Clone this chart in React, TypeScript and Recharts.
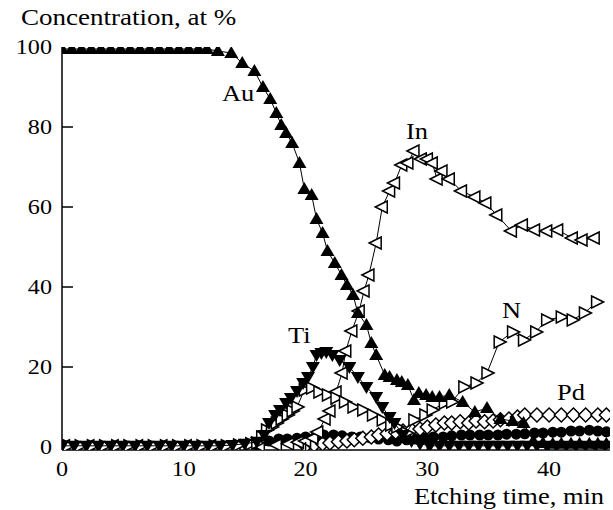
import React from 'react';
import { ScatterChart, Scatter, XAxis, YAxis } from 'recharts';

// Etching time (min) / concentration (at %) per element
const auTime = [0, 0.8, 1.6, 2.4, 3.2, 4, 4.8, 5.6, 6.4, 7.2, 8, 8.8, 9.6, 10.4, 11.2, 11.9, 12.8, 13.9, 14.8, 15.8, 16.5, 17.1, 17.6, 18, 18.4, 18.9, 19.5, 19.9, 20.5, 20.9, 21.4, 21.8, 22.4, 22.95, 23.4, 23.9, 24.3, 25, 25.4, 25.8, 26.5, 26.9, 27.5, 27.9, 28.4, 28.9, 29.3, 29.9, 30.4, 31, 31.8, 32.9, 33.9, 34.9, 36, 37, 37.9, 38.7, 39.5, 40.3, 41, 41.8, 42.5, 43.3, 44, 44.7];
const auConc = [99.5, 99.5, 99.5, 99.5, 99.5, 99.5, 99.5, 99.5, 99.5, 99.5, 99.5, 99.5, 99.5, 99.5, 99.5, 99.5, 99, 98.5, 96, 94, 90, 87, 83.5, 80.5, 78.5, 76, 71, 64.5, 63, 57, 53.5, 49, 46, 43, 40.5, 38, 33.5, 30.5, 26, 23, 18, 17.5, 16.75, 16.25, 15.5, 11.75, 13.5, 13, 12.5, 12.5, 13, 11.25, 8.75, 9.75, 7, 6.5, 6, 1.5, 1, 0.8, 0.8, 0.8, 0.8, 0.8, 0.8, 0.8];

const inTime = [0.2, 2.2, 4.2, 6.2, 8.2, 10.2, 12.2, 14.2, 16.2, 17.6, 18.6, 19.4, 20, 20.6, 21, 21.6, 22, 22.5, 23, 23.3, 23.8, 24.4, 24.8, 25.2, 25.8, 26.3, 26.9, 27.3, 27.9, 28.4, 28.9, 29.5, 30, 30.4, 30.8, 31.2, 31.8, 32.8, 33.9, 34.8, 35.7, 36.9, 37.8, 38.8, 39.8, 40.7, 41.9, 42.7, 43.7];
const inConc = [0.3, 0.3, 0.3, 0.3, 0.3, 0.3, 0.3, 0.3, 0.3, 0.5, 0.8, 1.2, 1.5, 2.25, 3.75, 7, 9, 13.75, 18.5, 24, 29, 34, 39, 43, 51, 60, 64, 66, 70.5, 71, 74, 72, 72, 71, 67, 69, 67, 64, 62.5, 61, 58, 54, 55.5, 54.25, 54, 54.25, 52.25, 51.75, 52.25];

const tiTime = [0, 1, 2, 3, 4, 5, 6, 7, 8, 9, 10, 11, 12, 13, 14, 15, 16, 16.6, 17, 17.5, 17.9, 18.4, 18.8, 19.3, 19.8, 20.2, 20.6, 20.9, 21.3, 21.7, 22.2, 22.8, 23.6, 24.3, 25, 25.8, 26.3, 26.9, 27.3, 28, 28.7, 29.4, 30.2, 31, 31.8, 32.6, 33.4, 34.2, 35, 35.8, 36.6, 37.4, 38.2, 39, 39.8, 40.6, 41.4, 42.2, 43, 43.8, 44.6];
const tiConc = [0.3, 0.3, 0.3, 0.3, 0.3, 0.3, 0.3, 0.3, 0.3, 0.3, 0.3, 0.3, 0.3, 0.3, 0.5, 0.8, 1.3, 3, 6, 8, 9.25, 11, 12.25, 14, 16, 17.5, 20, 23, 23.5, 23.75, 23, 21.75, 20, 17.5, 15, 12.5, 10, 7.5, 6, 3, 1.5, 0.8, 0.3, 0.3, 0.3, 0.3, 0.3, 0.3, 0.3, 0.3, 0.3, 0.3, 0.3, 0.3, 0.3, 0.3, 0.3, 0.3, 0.3, 0.3, 0.3];

const nTime = [0.5, 1.5, 2.5, 3.5, 4.5, 5.5, 6.5, 7.5, 8.5, 9.5, 10.5, 11.5, 12.5, 13.5, 14.5, 15.5, 16, 16.4, 16.8, 17.2, 17.6, 18, 18.5, 18.9, 19.3, 19.9, 20.5, 21.1, 21.8, 22.5, 23.2, 23.9, 24.7, 25.5, 26.3, 27, 27.5, 28.3, 28.9, 29.8, 30.4, 31.4, 32, 33, 34, 34.9, 35.9, 37, 37.9, 38.9, 39.8, 41, 41.9, 42.9, 43.9];
const nConc = [0.3, 0.3, 0.3, 0.3, 0.3, 0.3, 0.3, 0.3, 0.3, 0.3, 0.3, 0.3, 0.3, 0.3, 0.5, 0.8, 1, 2.5, 4.25, 5, 6, 7, 8, 9, 10, 14.25, 14.75, 13.75, 13, 12.25, 11.25, 10, 9.25, 8, 6.75, 5.5, 5, 3.5, 6.75, 8, 9.25, 11, 11.25, 15, 16, 18.5, 26.25, 28.75, 26.75, 28.75, 31.75, 32.5, 31.75, 33.5, 36.25];

const pdTime = [20, 20.7, 21.4, 22, 22.7, 23.4, 24, 24.7, 25.4, 26, 26.7, 27.4, 28, 28.7, 29.4, 30, 30.7, 31.4, 32, 32.7, 33.4, 34, 34.7, 35.4, 36, 36.7, 37.4, 38, 39, 40, 41, 42, 43, 44, 44.7];
const pdConc = [0.3, 0.5, 0.8, 1, 1.3, 1.5, 1.8, 2.2, 2.5, 3, 3.3, 3.7, 4, 4.3, 4.5, 5, 5.5, 6, 6, 6.3, 6, 6.5, 6.3, 6.5, 6.8, 7, 7.5, 8, 8, 8, 8, 8, 8, 8, 8];

const dotTime = [16, 17, 17.8, 18.5, 19.3, 20, 20.8, 21.5, 22.3, 23, 23.8, 24.5, 25.3, 26, 26.8, 27.5, 28.3, 29, 29.8, 30.5, 31.3, 32, 32.8, 33.5, 34.3, 35, 35.8, 36.5, 37.3, 38, 38.8, 39.5, 40.3, 41, 41.8, 42.5, 43.3, 44, 44.7];
const dotConc = [0.5, 1.5, 2, 2, 2.2, 2.5, 2.5, 3, 3, 2.8, 2.5, 2.5, 2.3, 2, 1.8, 1.5, 1.8, 2, 2.2, 2.5, 2.5, 2.8, 3, 3, 3, 3, 3, 3.2, 3.2, 3.3, 3.5, 3.5, 3.7, 3.7, 4, 4, 4.2, 4, 3.8];

const xTicks = [0, 10, 20, 30, 40];
const yTicks = [0, 20, 40, 60, 80, 100];

const toPoints = (t: number[], v: number[]) => t.map((x, i) => ({ t: x, v: v[i] }));

const textStyle = { fontFamily: 'Liberation Serif, Times New Roman, serif' };
const SX = 1.15;

const UpTri = ({ cx, cy }: any) => (
  <polygon points={`${cx},${cy - 7} ${cx + 7},${cy + 5} ${cx - 7},${cy + 5}`} fill="#000" />
);
const DownTri = ({ cx, cy }: any) => (
  <polygon points={`${cx - 7},${cy - 5} ${cx + 7},${cy - 5} ${cx},${cy + 7}`} fill="#000" />
);
const LeftTri = ({ cx, cy }: any) => (
  <polygon points={`${cx - 7},${cy} ${cx + 5},${cy - 6} ${cx + 5},${cy + 6}`} fill="#fff" stroke="#000" strokeWidth={1.5} />
);
const RightTri = ({ cx, cy }: any) => (
  <polygon points={`${cx + 7},${cy} ${cx - 5},${cy - 6} ${cx - 5},${cy + 6}`} fill="#fff" stroke="#000" strokeWidth={1.5} />
);
const Diamond = ({ cx, cy }: any) => (
  <polygon points={`${cx},${cy - 7} ${cx + 7},${cy} ${cx},${cy + 7} ${cx - 7},${cy}`} fill="#fff" stroke="#000" strokeWidth={1.5} />
);
const Dot = ({ cx, cy }: any) => <circle cx={cx} cy={cy} r={5.5} fill="#000" />;

const YTick = ({ x, y, payload }: any) => (
  <g>
    {payload.value !== 0 && payload.value !== 100 && (
      <line x1={x + 10} x2={x + 21} y1={y} y2={y} stroke="#000" strokeWidth={1.5} />
    )}
    <text transform={`translate(${x},${y + 7}) scale(${SX},1)`} textAnchor="end" style={textStyle} fontSize={21} fill="#000">
      {payload.value}
    </text>
  </g>
);

const XTick = ({ x, y, payload }: any) => (
  <g>
    {payload.value !== 0 && (
      <line x1={x} x2={x} y1={y - 12} y2={y - 20} stroke="#000" strokeWidth={1.5} />
    )}
    <text transform={`translate(${x},${y + 14}) scale(${SX},1)`} textAnchor="middle" style={textStyle} fontSize={21} fill="#000">
      {payload.value}
    </text>
  </g>
);

const Label = ({ x, y, children, anchor = 'start', size = 23 }: any) => (
  <text transform={`translate(${x},${y}) scale(${SX},1)`} textAnchor={anchor} style={textStyle} fontSize={size} fill="#000">
    {children}
  </text>
);

const line = { stroke: '#000', strokeWidth: 1 };

export default function App() {
  return (
    <div style={{ position: 'absolute', left: 0, top: 0, width: 613, height: 510, background: '#fff' }}>
      <ScatterChart width={613} height={510} margin={{ top: 47, right: 3, bottom: 0, left: 0 }}>
        <XAxis
          type="number"
          dataKey="t"
          domain={[0, 45]}
          ticks={xTicks}
          height={60}
          tickSize={0}
          tickMargin={12}
          tick={<XTick />}
          axisLine={{ stroke: '#000', strokeWidth: 1.5 }}
          allowDataOverflow
        />
        <YAxis
          type="number"
          dataKey="v"
          domain={[-0.75, 100]}
          ticks={yTicks}
          width={62}
          tickSize={0}
          tickMargin={10}
          tick={<YTick />}
          axisLine={{ stroke: '#000', strokeWidth: 1.5 }}
          allowDataOverflow
        />
        <Scatter data={toPoints(dotTime, dotConc)} line={line} lineType="joint" shape={<Dot />} isAnimationActive={false} />
        <Scatter data={toPoints(pdTime, pdConc)} line={line} lineType="joint" shape={<Diamond />} isAnimationActive={false} />
        <Scatter data={toPoints(inTime, inConc)} line={line} lineType="joint" shape={<LeftTri />} isAnimationActive={false} />
        <Scatter data={toPoints(nTime, nConc)} line={line} lineType="joint" shape={<RightTri />} isAnimationActive={false} />
        <Scatter data={toPoints(tiTime, tiConc)} line={line} lineType="joint" shape={<DownTri />} isAnimationActive={false} />
        <Scatter data={toPoints(auTime, auConc)} line={line} lineType="joint" shape={<UpTri />} isAnimationActive={false} />
      </ScatterChart>
      <svg width={613} height={510} style={{ position: 'absolute', left: 0, top: 0, pointerEvents: 'none' }}>
        <Label x={21} y={25} size={23.5}>Concentration, at %</Label>
        <Label x={222} y={101}>Au</Label>
        <Label x={406} y={139}>In</Label>
        <Label x={288} y={343}>Ti</Label>
        <Label x={502} y={318}>N</Label>
        <Label x={557} y={400}>Pd</Label>
        <Label x={604} y={504} anchor="end" size={23}>Etching time, min</Label>
      </svg>
    </div>
  );
}
